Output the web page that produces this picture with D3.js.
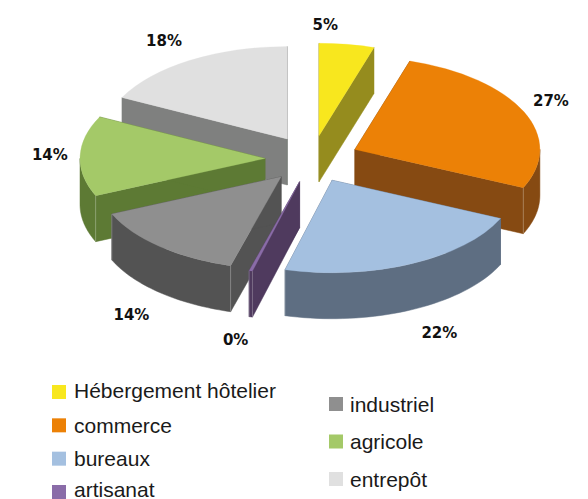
<!DOCTYPE html>
<html><head><meta charset="utf-8">
<script src="https://cdn.jsdelivr.net/npm/d3@7"></script>
<style>html,body{margin:0;padding:0;background:#fff}svg{display:block}</style></head>
<body><svg id="c" width="588" height="499"></svg>
<script>
const categories = ["Hébergement hôtelier","commerce","bureaux","artisanat","industriel","agricole","entrepôt"];
const values = [4.8,27,22.3,0.3,14,14,17.6];
const percentLabels = ["5%","27%","22%","0%","14%","14%","18%"];
const topColors = ["#f8e71e","#ec8106","#a4c0e0","#8a6ca8","#8f8f8f","#a4c968","#e0e0e0"];
const sideColors = ["#958c1e","#864a12","#5e6e82","#4f3a5e","#535353","#5d7a34","#7f807f"];

// layout
const W=588,H=499,cx=312,cy=159,rx=185,ratio=0.5,depth=46,explode=47;
const paintOrder=[6,0,1,5,4,2,3];
const labelNudge=[[-25,-8],[6,-6],[18,13],[-9,12],[-13,14],[-7,-1],[-14,-9]];
const svg=d3.select("#c");
const pie=d3.pie().sort(null).value(d=>d)(values);
const arc=d3.arc().innerRadius(0).outerRadius(rx);
const line=d3.line();
const mid=d=>(d.startAngle+d.endAngle)/2;
const apex=d=>[cx+explode*Math.sin(mid(d)),cy-explode*ratio*Math.cos(mid(d))];
const rim=(d,a)=>{const p=apex(d);return [p[0]+rx*Math.sin(a),p[1]-rx*ratio*Math.cos(a)];};
const down=p=>[p[0],p[1]+depth];
const wallPts=(p,q)=>[p,q,down(q),down(p)];

paintOrder.forEach(i=>{
  const d=pie[i],g=svg.append("g"),c=sideColors[i],A=apex(d);
  [d.startAngle,d.endAngle].forEach(a=>{
    g.append("path").attr("d",line(wallPts(A,rim(d,a)))+"Z").attr("fill",c).attr("stroke",c).attr("stroke-width",.5);
  });
  // outer curved wall: only front half is visible
  const a0=Math.max(d.startAngle,Math.PI/2),a1=Math.min(d.endAngle,Math.PI*1.5);
  if(a1>a0){
    const as=d3.range(0,41).map(k=>a0+(a1-a0)*k/40);
    const area=d3.area().x(a=>rim(d,a)[0]).y0(a=>rim(d,a)[1]).y1(a=>rim(d,a)[1]+depth);
    g.append("path").attr("d",area(as)).attr("fill",c).attr("stroke",c).attr("stroke-width",.5);
    // seam between the rim wall and the radial wall
    [d.startAngle,d.endAngle].forEach(a=>{
      if(a>=a0-1e-6&&a<=a1+1e-6&&Math.sin(a)<0&&Math.cos(a)<0||(a===d.endAngle&&a<Math.PI&&a>Math.PI/2&&i===1)){
        const p=rim(d,a);
        g.append("path").attr("d",line([p,down(p)])).attr("stroke","#fff").attr("stroke-opacity",.25).attr("fill","none");
      }
    });
  }
  g.append("path").attr("d",arc(d)).attr("transform",`translate(${A[0]},${A[1]}) scale(1,${ratio})`)
    .attr("fill",topColors[i]).attr("stroke",topColors[i]).attr("stroke-width",.4);
});

// percentage labels
const lr=(rx+explode)*1.1;
svg.append("g").selectAll("text").data(pie).join("text")
  .attr("x",(d,i)=>cx+lr*Math.sin(mid(d))+labelNudge[i][0])
  .attr("y",(d,i)=>cy-lr*ratio*Math.cos(mid(d))+(Math.cos(mid(d))<0?depth:0)+labelNudge[i][1])
  .attr("text-anchor","middle").attr("dominant-baseline","central")
  .attr("font-family","'DejaVu Sans',sans-serif").attr("font-weight","bold").attr("font-size",15).attr("fill","#111")
  .text((d,i)=>percentLabels[i]);

// legend
const leftY=d3.scaleLinear().domain([0,3]).range([392,492]);
const rightY=d3.scaleLinear().domain([4,6]).range([404,479]);
const leg=svg.append("g").selectAll("g").data(categories).join("g")
  .attr("transform",(d,i)=>i<4?`translate(52,${leftY(i)})`:`translate(329,${rightY(i)})`);
leg.append("rect").attr("x",0).attr("y",-7).attr("width",14).attr("height",14).attr("fill",(d,i)=>topColors[i]);
leg.append("text").attr("x",(d,i)=>i<4?22:21).attr("y",(d,i)=>i===3?-3:(i===0?-2:0)).attr("dominant-baseline","central")
  .attr("font-family","'Liberation Sans',Arial,sans-serif").attr("font-size",21).attr("fill","#1a1a1a").text(d=>d);
</script></body></html>
